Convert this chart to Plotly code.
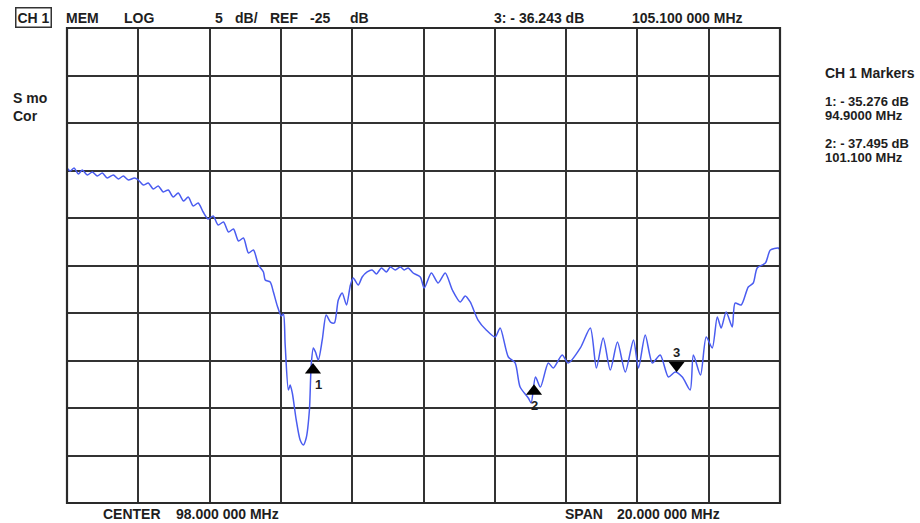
import plotly.graph_objects as go

# ---- data (MHz, dB) ----
freq_mhz = [88.00, 88.09, 88.20, 88.32, 88.43, 88.57, 88.71, 88.85, 88.99, 89.13, 89.30, 89.44, 89.58, 89.72, 89.89,
            90.00, 90.14, 90.28, 90.42, 90.56, 90.70, 90.84, 90.98, 91.12, 91.27, 91.40, 91.54, 91.68, 91.82, 91.96,
            92.10, 92.24, 92.39, 92.53, 92.67, 92.81, 92.95, 93.09, 93.23, 93.37, 93.51, 93.56, 93.70, 93.79, 93.90,
            94.01, 94.07, 94.12, 94.21, 94.26, 94.32, 94.43, 94.54, 94.63, 94.71, 94.80, 94.85, 94.91, 94.97, 95.05,
            95.16, 95.27, 95.39, 95.50, 95.61, 95.72, 95.84, 95.95, 96.03, 96.17, 96.28, 96.42, 96.56, 96.68, 96.82,
            96.96, 97.07, 97.21, 97.35, 97.46, 97.57, 97.71, 97.91, 98.02, 98.22, 98.41, 98.61, 98.81, 99.03, 99.17,
            99.31, 99.53, 99.76, 100.01, 100.15, 100.38, 100.57, 100.71, 100.94, 101.02, 101.14, 101.28, 101.50,
            101.64, 101.89, 102.06, 102.40, 102.68, 102.85, 103.04, 103.24, 103.44, 103.66, 103.89, 104.03, 104.22,
            104.42, 104.64, 104.87, 105.06, 105.26, 105.48, 105.57, 105.77, 105.93, 106.10, 106.24, 106.35, 106.49,
            106.66, 106.74, 106.91, 107.11, 107.25, 107.36, 107.59, 107.73, 107.95, 108.00]
level_db = [-14.74, -15.05, -14.74, -15.37, -14.95, -15.47, -15.16, -15.58, -15.26, -15.79, -15.47, -15.89, -15.58, -16.00, -15.79,
            -16.00, -16.53, -16.32, -16.95, -16.63, -17.26, -17.05, -17.79, -17.37, -18.21, -17.79, -18.74, -18.42, -19.37, -20.11,
            -19.79, -20.74, -20.42, -21.47, -21.16, -22.42, -22.11, -23.68, -23.37, -24.95, -25.68, -26.53, -26.74, -27.79, -29.26,
            -30.32, -30.11, -33.37, -38.11, -37.58, -38.42, -41.26, -43.37, -43.89, -43.16, -40.21, -35.47, -33.68, -34.11, -34.95,
            -32.84, -30.21, -30.95, -31.05, -28.63, -27.89, -29.16, -27.05, -26.32, -27.05, -26.21, -25.68, -25.47, -25.89, -25.26,
            -25.68, -25.16, -25.47, -25.16, -25.47, -25.26, -25.79, -26.21, -27.37, -25.79, -26.84, -25.79, -27.58, -28.84, -28.20,
            -28.84, -30.74, -31.79, -32.53, -31.58, -34.63, -35.26, -37.79, -38.95, -39.47, -36.74, -37.79, -35.26,
            -35.79, -34.42, -35.26, -33.68, -31.58, -35.79, -32.63, -36.00, -33.05, -36.21, -32.84, -35.79, -32.32,
            -35.26, -34.42, -36.74, -36.21, -36.74, -38.11, -34.42, -36.53, -32.53, -33.68, -30.42, -31.58, -29.89,
            -31.47, -28.95, -29.16, -27.26, -26.84, -25.26, -24.74, -23.37, -23.16, -23.37]

marker_ids = ["1", "2", "3"]
marker_freq = [94.9, 101.1, 105.1]
marker_db = [-35.276, -37.495, -36.243]
marker_up = [True, True, False]

ref_db = -25
db_per_div = 5
start_mhz, stop_mhz = 88, 108
bottom_db, top_db = -50, 0

# ---- layout geometry ----
W, H = 920, 523
ML, MR, MT, MB = 67, 140, 28, 20
PW, PH = W - ML - MR, H - MT - MB
px_per_db = PH / (top_db - bottom_db)

def pa(px, py):
    return (px - ML) / PW, (H - MB - py) / PH

FONT = "Liberation Sans, Arial, sans-serif"
TXT = "#1e1e1e"
FS = 14

fig = go.Figure()
fig.add_trace(go.Scatter(x=freq_mhz, y=level_db, mode="lines",
                         line=dict(color="#4a5cf0", width=1.5, shape="spline", smoothing=0.7),
                         hoverinfo="skip"))

# marker triangles (apex on the data point)
msize = 14
r = msize / 2
for mid, f, d, up in zip(marker_ids, marker_freq, marker_db, marker_up):
    yc = d - r / px_per_db if up else d + r / px_per_db
    fig.add_trace(go.Scatter(x=[f], y=[yc], mode="markers",
                             marker=dict(symbol="triangle-up" if up else "triangle-down",
                                         size=msize, color="#000000", line=dict(width=0)),
                             hoverinfo="skip"))
    fig.add_annotation(x=f, y=d, xref="x", yref="y", text="<b>%s</b>" % mid, showarrow=False,
                       xshift=6 if mid == "1" else 0, yshift=-21 if up else 20,
                       font=dict(family=FONT, size=13, color=TXT))

# reference level indicator
fig.add_trace(go.Scatter(x=[start_mhz - 0.2], y=[ref_db], mode="markers", cliponaxis=False,
                         marker=dict(symbol="triangle-right-open", size=7, color="#333",
                                     line=dict(width=1.2, color="#333")),
                         hoverinfo="skip"))

def label(text, px, py, anchor="left", size=FS):
    x, y = pa(px, py)
    fig.add_annotation(x=x, y=y, xref="paper", yref="paper", text="<b>%s</b>" % text,
                       showarrow=False, xanchor=anchor, yanchor="middle",
                       font=dict(family=FONT, size=size, color=TXT))

# top line
cx, cy = pa(33, 17)
fig.add_annotation(x=cx, y=cy, xref="paper", yref="paper", text="<b>CH 1</b>", showarrow=False,
                   xanchor="center", yanchor="middle", bordercolor="#333", borderwidth=1.5, borderpad=1,
                   font=dict(family=FONT, size=FS, color=TXT))
label("MEM", 64, 18)
label("LOG", 122, 18)
label("5", 213, 18)
label("dB/", 233, 18)
label("REF", 268, 18)
label(str(ref_db), 308, 18)
label("dB", 348, 18)
label("3: - 36.243 dB", 492, 18)
label("105.100 000 MHz", 630, 18)

# left labels
label("S mo", 11, 98)
label("Cor", 11, 116)

# right markers panel
label("CH 1 Markers", 823, 73)
label("1: - 35.276 dB", 823, 102, size=13)
label("94.9000 MHz", 823, 116, size=13)
label("2: - 37.495 dB", 823, 143, size=13)
label("101.100 MHz", 823, 157, size=13)

# bottom
label("CENTER", 101, 514)
label("98.000 000 MHz", 174, 514)
label("SPAN", 563, 514)
label("20.000 000 MHz", 615, 514)

# frame
fig.add_shape(type="rect", xref="paper", yref="paper", x0=0, y0=0, x1=1, y1=1,
              line=dict(color="#2a2a2a", width=2.2))

fig.update_xaxes(range=[start_mhz, stop_mhz], dtick=(stop_mhz - start_mhz) / 10, tick0=start_mhz,
                 showgrid=True, gridcolor="#333333", gridwidth=1.5, showticklabels=False,
                 zeroline=False, ticks="", showline=False, fixedrange=True)
fig.update_yaxes(range=[bottom_db, top_db], dtick=db_per_div, tick0=bottom_db,
                 showgrid=True, gridcolor="#333333", gridwidth=1.5, showticklabels=False,
                 zeroline=False, ticks="", showline=False, fixedrange=True)
fig.update_layout(width=W, height=H, margin=dict(l=ML, r=MR, t=MT, b=MB, pad=0),
                  paper_bgcolor="white", plot_bgcolor="white", showlegend=False)

fig.write_html("out.html", config={"displayModeBar": False},
               post_script="document.body.style.margin='0';document.body.style.overflow='hidden';")
